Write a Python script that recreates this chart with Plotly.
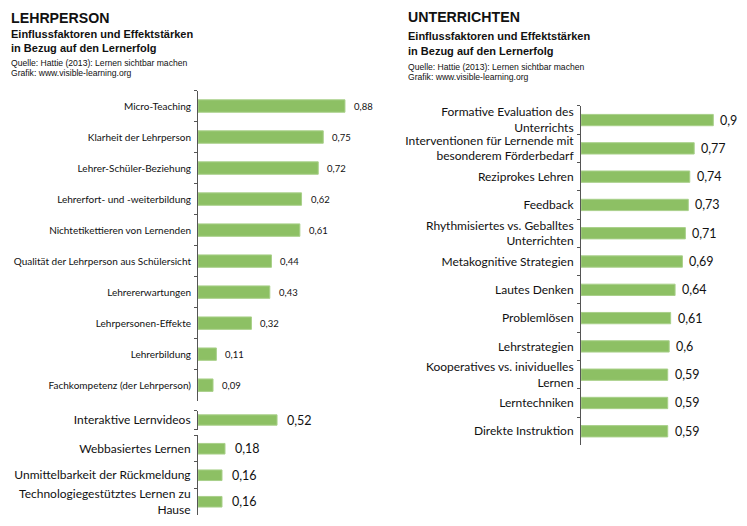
import plotly.graph_objects as go

# page has an 8px body margin: the figure is drawn 8px in from the top-left corner,
# and is kept small enough that the page never overflows the 747x526 window
OFF = 8
W, H = 747 - 2 * OFF, 526 - 2 * OFF

# ---- data ----
lehr_labels = ["Micro-Teaching", "Klarheit der Lehrperson", "Lehrer-Schüler-Beziehung",
               "Lehrerfort- und -weiterbildung", "Nichtetikettieren von Lernenden",
               "Qualität der Lehrperson aus Schülersicht", "Lehrererwartungen",
               "Lehrpersonen-Effekte", "Lehrerbildung", "Fachkompetenz (der Lehrperson)"]
lehr_values = [0.88, 0.75, 0.72, 0.62, 0.61, 0.44, 0.43, 0.32, 0.11, 0.09]

video_labels = ["Interaktive Lernvideos"]
video_values = [0.52]

tech_labels = ["Webbasiertes Lernen", "Unmittelbarkeit der Rückmeldung",
               "Technologiegestütztes Lernen zu<br>Hause"]
tech_values = [0.18, 0.16, 0.16]

unt_labels = ["Formative Evaluation des<br>Unterrichts",
              "Interventionen für Lernende mit<br>besonderem Förderbedarf",
              "Reziprokes Lehren", "Feedback",
              "Rhythmisiertes vs. Geballtes<br>Unterrichten",
              "Metakognitive Strategien", "Lautes Denken", "Problemlösen",
              "Lehrstrategien", "Kooperatives vs. inividuelles<br>Lernen",
              "Lerntechniken", "Direkte Instruktion"]
unt_values = [0.9, 0.77, 0.74, 0.73, 0.71, 0.69, 0.64, 0.61, 0.6, 0.59, 0.59, 0.59]

FILL = "#8dc064"
EDGE = "#a9d08a"
AXC = "#555555"
LBL_FONT = "Lato, Open Sans, sans-serif"


def fmt(v):
    return f"{v:g}".replace(".", ",")


def px_x(x0, x1):
    return [(x0 - OFF) / W, (x1 - OFF) / W]


def px_y(top, bottom):
    return [(H - (bottom - OFF)) / H, (H - (top - OFF)) / H]


fig = go.Figure()

# panels: (labels, values, axis index, x-domain px, y-domain px, bar width, label size, value size, shift)
panels = [
    (lehr_labels, lehr_values, 1, (198, 198 + 167), (90, 402), 0.40, 10, 9.5, 7),
    (video_labels, video_values, 2, (198, 198 + 152), (412, 431), 0.55, 12, 12.5, 8),
    (tech_labels, tech_values, 3, (198, 198 + 150), (437, 517), 0.40, 12, 12.5, 8),
    (unt_labels, unt_values, 4, (581, 581 + 147), (105.5, 447), 0.40, 12, 12.5, 5),
]

annotations = []
for labels, values, i, xd, yd, bw, fs, vfs, sh in panels:
    xa = "x" if i == 1 else f"x{i}"
    ya = "y" if i == 1 else f"y{i}"
    fig.add_trace(go.Bar(
        x=values, y=labels, orientation="h", xaxis=xa, yaxis=ya,
        width=bw, marker=dict(color=FILL, line=dict(color=EDGE, width=1)),
        hoverinfo="skip", showlegend=False,
    ))
    for lab, v in zip(labels, values):
        annotations.append(dict(
            x=v, y=lab, xref=xa, yref=ya, text=fmt(v), showarrow=False,
            xanchor="left", yanchor="middle", xshift=sh,
            font=dict(family=LBL_FONT, size=vfs, color="#111111"),
        ))
    key = "" if i == 1 else str(i)
    fig.update_layout(**{
        f"xaxis{key}": dict(domain=px_x(*xd), range=[0, 1], visible=False, fixedrange=True),
        f"yaxis{key}": dict(
            domain=px_y(*yd), type="category", autorange="reversed",
            anchor=xa, showline=True, linecolor=AXC, linewidth=1,
            ticks="outside", ticklen=3, tickcolor=AXC, tickson="boundaries",
            tickfont=dict(family=LBL_FONT, size=fs, color="#111111"),
            ticklabelstandoff=4, showgrid=False, zeroline=False,
        ),
    })

# titles
TF = "Liberation Sans, Arial, sans-serif"


def txt(x, y, s, size, bold=False):
    annotations.append(dict(
        x=(x - OFF) / W, y=(H - (y - OFF)) / H, xref="paper", yref="paper",
        text=f"<b>{s}</b>" if bold else s,
        showarrow=False, xanchor="left", yanchor="middle",
        font=dict(family=TF, size=size, color="#111111"),
    ))


txt(9, 17, "LEHRPERSON", 14.2, True)
txt(9, 33, "Einflussfaktoren und Effektstärken", 11, True)
txt(9, 47, "in Bezug auf den Lernerfolg", 11, True)
txt(9, 62, "Quelle: Hattie (2013): Lernen sichtbar machen", 8.6)
txt(9, 72, "Grafik: www.visible-learning.org", 8.6)

txt(406, 16, "UNTERRICHTEN", 14.2, True)
txt(406, 35, "Einflussfaktoren und Effektstärken", 11, True)
txt(406, 50, "in Bezug auf den Lernerfolg", 11, True)
txt(406, 66, "Quelle: Hattie (2013): Lernen sichtbar machen", 8.6)
txt(406, 76, "Grafik: www.visible-learning.org", 8.6)

fig.update_layout(
    width=W, height=H, margin=dict(l=0, r=0, t=0, b=0),
    paper_bgcolor="white", plot_bgcolor="white",
    annotations=annotations, bargap=0.6,
)

fig.write_html("out.html")
